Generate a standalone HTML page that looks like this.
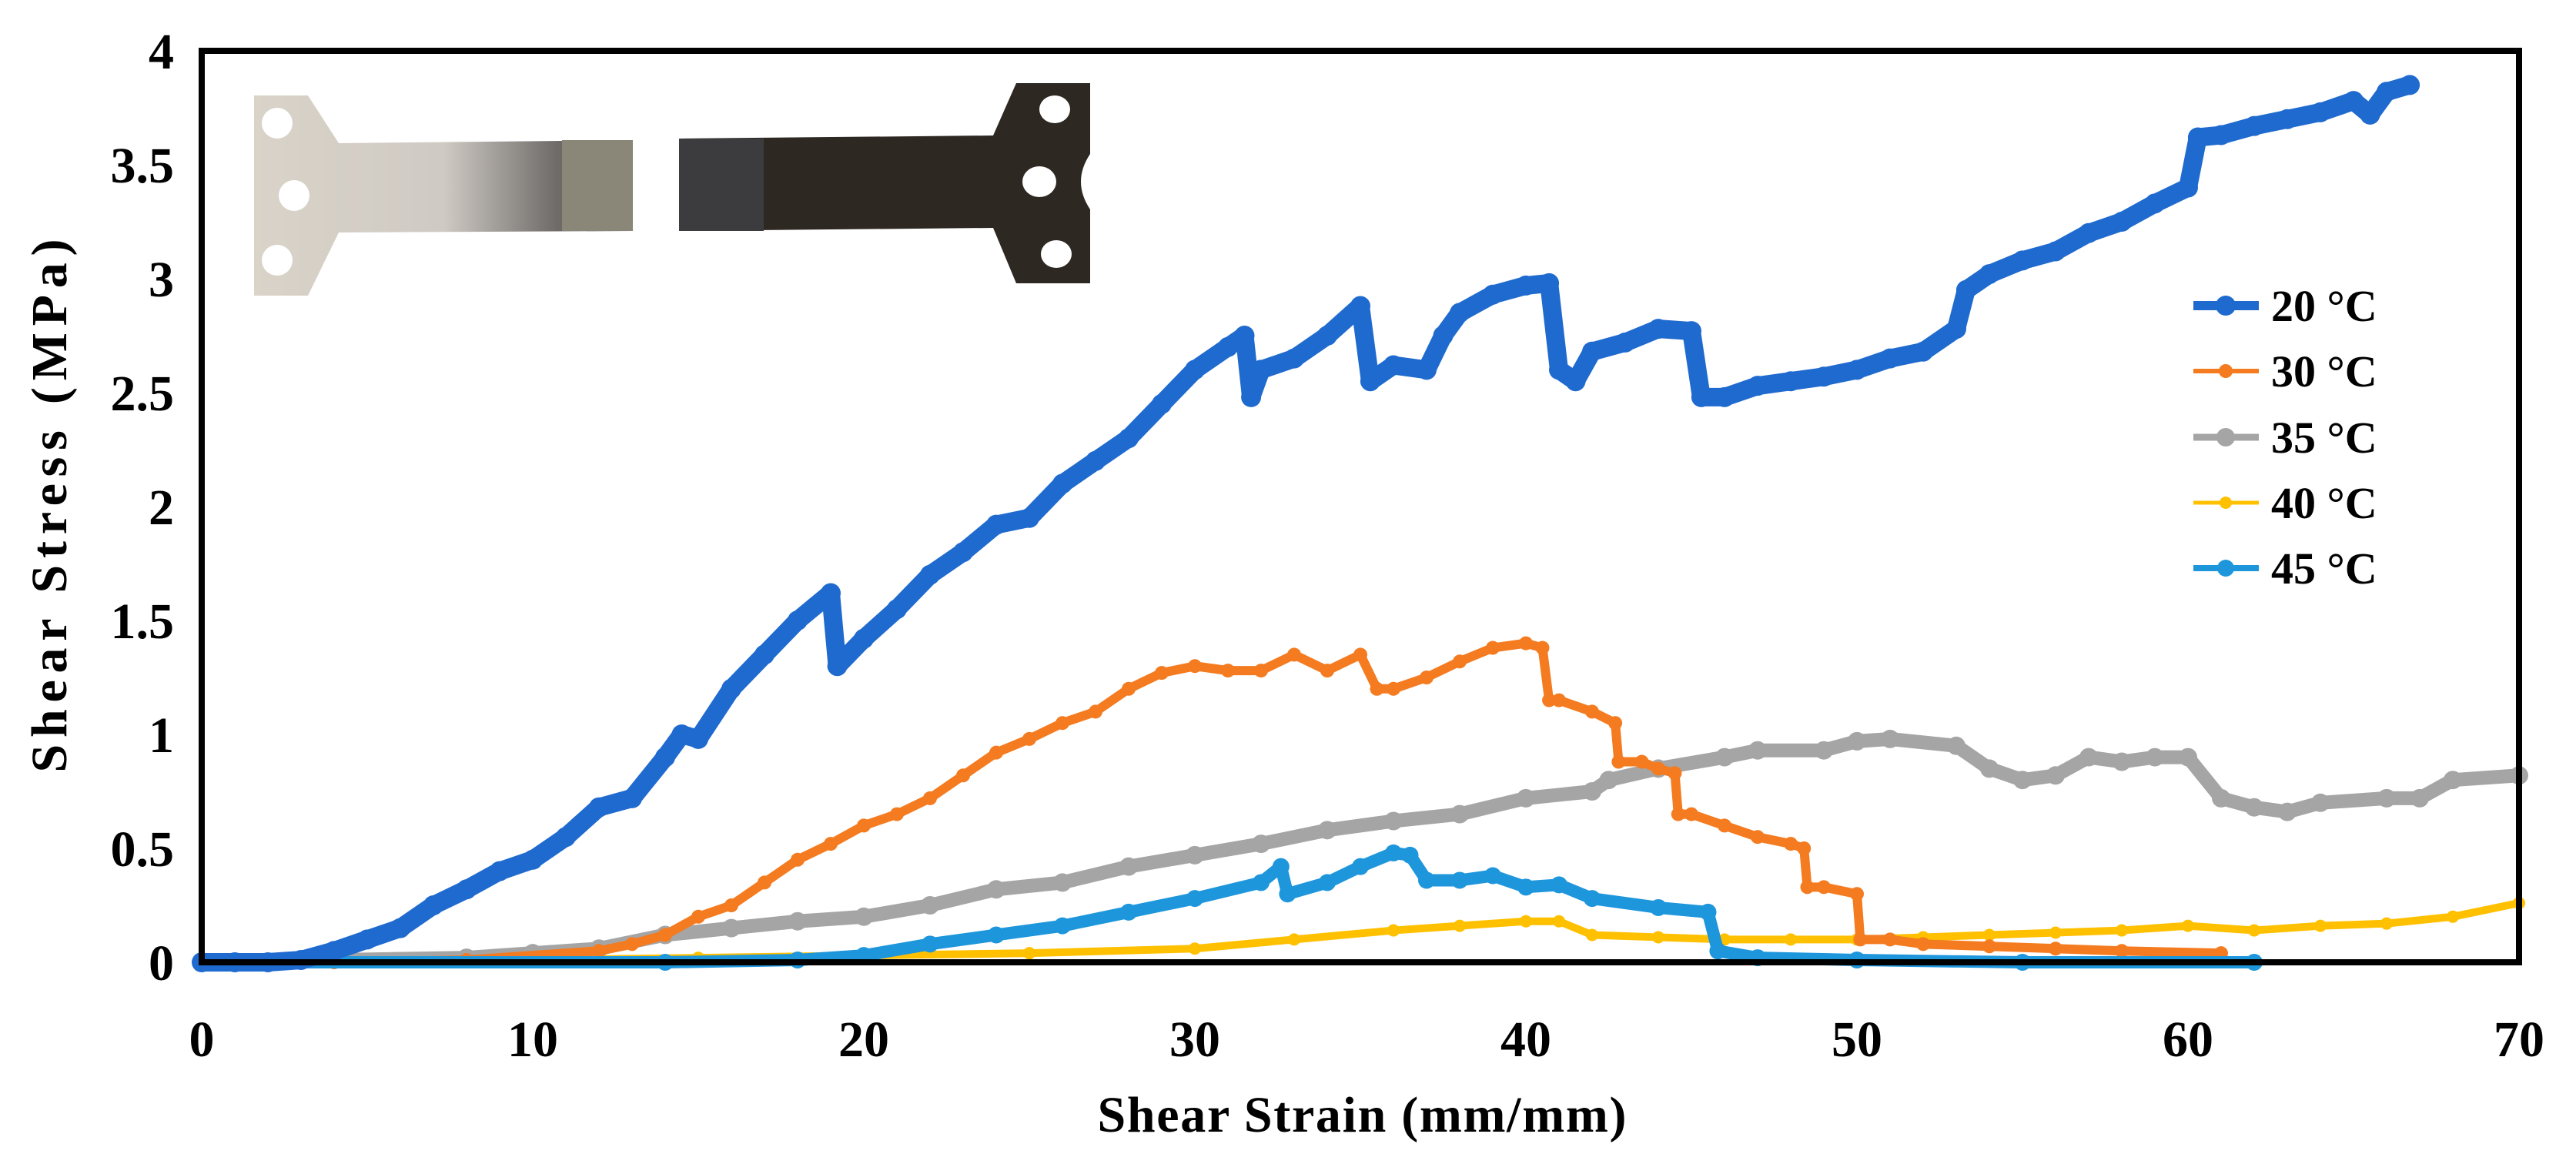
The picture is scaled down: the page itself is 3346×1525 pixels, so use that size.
<!DOCTYPE html>
<html><head><meta charset="utf-8"><style>
html,body{margin:0;padding:0;background:#fff;}
svg{display:block;font-family:"Liberation Serif",serif;}
</style></head><body>
<svg id="chart" width="3346" height="1525" viewBox="0 0 3346 1525" xmlns="http://www.w3.org/2000/svg">
<rect width="3346" height="1525" fill="#fff"/>
<g id="inset">
  <defs>
    <linearGradient id="gL" x1="0" x2="1" y1="0" y2="0">
      <stop offset="0" stop-color="#d9d3c8"/><stop offset="0.5" stop-color="#cfcac4"/><stop offset="0.8" stop-color="#6e6b68"/><stop offset="1" stop-color="#555"/>
    </linearGradient>
  </defs>
  <path d="M330,124 L400,124 L440,186 L822,182 L822,300 L440,302 L400,384 L330,384 Z" fill="url(#gL)"/>
  <rect x="730" y="182" width="92" height="118" fill="#8a8678"/>
  <circle cx="360" cy="160" r="20" fill="#fff"/><circle cx="382" cy="254" r="20" fill="#fff"/><circle cx="360" cy="338" r="20" fill="#fff"/>
  <path d="M882,180 L1290,176 L1320,108 L1416,108 L1416,368 L1320,368 L1290,296 L882,300 Z" fill="#2e2823"/>
  <rect x="882" y="180" width="110" height="120" fill="#3c3c3e"/>
  <ellipse cx="1370" cy="142" rx="20" ry="18" fill="#fff"/><ellipse cx="1350" cy="236" rx="22" ry="20" fill="#fff"/><ellipse cx="1372" cy="330" rx="20" ry="18" fill="#fff"/>
  <path d="M1416,200 Q1392,236 1416,272 Z" fill="#fff"/>
</g>
<g id="plot"></g>
<rect x="262" y="66" width="3010" height="1184" fill="none" stroke="#000" stroke-width="8"/>
<g id="axes"></g>
<text x="1769" y="1470" font-size="66" font-weight="bold" text-anchor="middle" textLength="687">Shear Strain (mm/mm)</text>
<text transform="translate(86,657) rotate(-90)" font-size="66" font-weight="bold" text-anchor="middle" textLength="693">Shear Stress (MPa)</text>
<g id="legend"></g>
</svg>
<script>
const xTicks=[0,10,20,30,40,50,60,70];
const yTicks=[0,0.5,1,1.5,2,2.5,3,3.5,4];
const yTickLabels=["0","0.5","1","1.5","2","2.5","3","3.5","4"];
const seriesNames=["20 °C","30 °C","35 °C","40 °C","45 °C"];
const x20=[0,1,2,3,4,5,6,7,8,9,10,11,12,13,14,14.5,15,16,17,18,19,19.2,20,21,22,23,24,25,26,27,28,29,30,31,31.5,31.7,32,33,34,35,35.3,36,37,37.5,38,39,40,40.7,41,41.5,42,43,44,45,45.3,46,47,48,49,50,51,52,53,53.3,54,55,56,57,58,59,60,60.3,61,62,63,64,65,65.5,66,66.7];
const y20=[0,0,0,0.01,0.05,0.1,0.15,0.25,0.32,0.4,0.45,0.55,0.68,0.72,0.9,1.0,0.98,1.2,1.35,1.5,1.62,1.3,1.42,1.55,1.7,1.8,1.92,1.95,2.1,2.2,2.3,2.45,2.6,2.7,2.75,2.48,2.6,2.65,2.75,2.88,2.55,2.62,2.6,2.75,2.85,2.93,2.97,2.98,2.6,2.55,2.68,2.72,2.78,2.77,2.48,2.48,2.53,2.55,2.57,2.6,2.65,2.68,2.78,2.95,3.02,3.08,3.12,3.2,3.25,3.33,3.4,3.62,3.63,3.67,3.7,3.73,3.78,3.72,3.82,3.85];
const x30=[0,4,8,12,13,14,15,16,17,18,19,20,21,22,23,24,25,26,27,28,29,30,31,32,33,34,35,35.5,36,37,38,39,40,40.5,40.7,41,42,42.7,42.8,43.5,44,44.5,44.6,45,46,47,48,48.4,48.5,49,50,50.1,51,52,54,56,58,61];
const y30=[0,0,0.01,0.05,0.08,0.12,0.2,0.25,0.35,0.45,0.52,0.6,0.65,0.72,0.82,0.92,0.98,1.05,1.1,1.2,1.27,1.3,1.28,1.28,1.35,1.28,1.35,1.2,1.2,1.25,1.32,1.38,1.4,1.38,1.15,1.15,1.1,1.05,0.88,0.88,0.85,0.83,0.65,0.65,0.6,0.55,0.52,0.5,0.33,0.33,0.3,0.1,0.1,0.08,0.07,0.06,0.05,0.04];
const x35=[0,8,10,12,14,16,18,20,22,24,26,28,30,32,34,36,38,40,42,42.5,44,46,47,49,50,51,53,54,55,56,57,58,59,60,61,62,63,64,66,67,68,70];
const y35=[0,0.02,0.04,0.06,0.12,0.15,0.18,0.2,0.25,0.32,0.35,0.42,0.47,0.52,0.58,0.62,0.65,0.72,0.75,0.8,0.85,0.9,0.93,0.93,0.97,0.98,0.95,0.85,0.8,0.82,0.9,0.88,0.9,0.9,0.72,0.68,0.66,0.7,0.72,0.72,0.8,0.82];
const x40=[0,10,15,20,25,30,33,36,38,40,41,42,44,46,48,50,52,54,56,58,60,62,64,66,68,70];
const y40=[0,0.01,0.02,0.03,0.04,0.06,0.1,0.14,0.16,0.18,0.18,0.12,0.11,0.1,0.1,0.1,0.11,0.12,0.13,0.14,0.16,0.14,0.16,0.17,0.2,0.26];
const x45=[0,14,18,20,22,24,26,28,30,32,32.6,32.8,34,35,36,36.5,37,38,39,40,41,42,44,45.5,45.8,47,50,55,62];
const y45=[0,0,0.01,0.03,0.08,0.12,0.16,0.22,0.28,0.35,0.42,0.3,0.35,0.42,0.48,0.47,0.36,0.36,0.38,0.33,0.34,0.28,0.24,0.22,0.05,0.02,0.01,0,0];

const X0=262,X1=3272,Y0=1250,Y1=66;
function sx(v){return X0+(v/70)*(X1-X0);}
function sy(v){return Y0-(v/4)*(Y0-Y1);}
const NS="http://www.w3.org/2000/svg";
function mk(tag,attrs,parent){const e=document.createElementNS(NS,tag);for(const k in attrs)e.setAttribute(k,attrs[k]);parent.appendChild(e);return e;}
const axes=document.getElementById('axes');
xTicks.forEach(t=>{
  const e=mk('text',{x:sx(t),y:1372,'font-size':66,'font-weight':'bold','text-anchor':'middle'},axes);
  e.textContent=String(t);
  
  
});
yTicks.forEach((t,i)=>{
  const e=mk('text',{x:226,y:sy(t)+23,'font-size':66,'font-weight':'bold','text-anchor':'end'},axes);
  e.textContent=yTickLabels[i];
  
  
});
const series=[
  {xs:x20,ys:y20,c:"#1F6ACF",w:12,r:13,n:"series-20c"},
  {xs:x30,ys:y30,c:"#F47B20",w:6,r:9,n:"series-30c"},
  {xs:x35,ys:y35,c:"#A5A5A5",w:9,r:12,n:"series-35c"},
  {xs:x40,ys:y40,c:"#FFC000",w:5,r:8,n:"series-40c"},
  {xs:x45,ys:y45,c:"#1E96DC",w:8,r:11,n:"series-45c"}
];
const plot=document.getElementById('plot');
const order=[2,3,1,4,0];
order.forEach(si=>{
  const s=series[si];
  const g=mk('g',{},plot);
  
  
  const pts=s.xs.map((x,i)=>sx(x)+','+sy(s.ys[i])).join(' ');
  const pl=mk('polyline',{points:pts,fill:'none',stroke:s.c,'stroke-width':s.w*2,'stroke-linejoin':'round','stroke-linecap':'round'},g);
  
  
  s.xs.forEach((x,i)=>{
    const c=mk('circle',{cx:sx(x),cy:sy(s.ys[i]),r:s.r,fill:s.c},g);
    
    
  });
});
const legend=document.getElementById('legend');


const legY=[397,482,568,653,738];
series.forEach((s,i)=>{
  const g=mk('g',{},legend);
  
  
  mk('line',{x1:2849,x2:2934,y1:legY[i],y2:legY[i],stroke:s.c,'stroke-width':s.w},g);
  mk('circle',{cx:2891,cy:legY[i],r:s.r,fill:s.c},g);
  const t=mk('text',{x:2950,y:legY[i]+20,'font-size':58,'font-weight':'bold'},g);
  t.textContent=seriesNames[i];
});
</script>
</body></html>
